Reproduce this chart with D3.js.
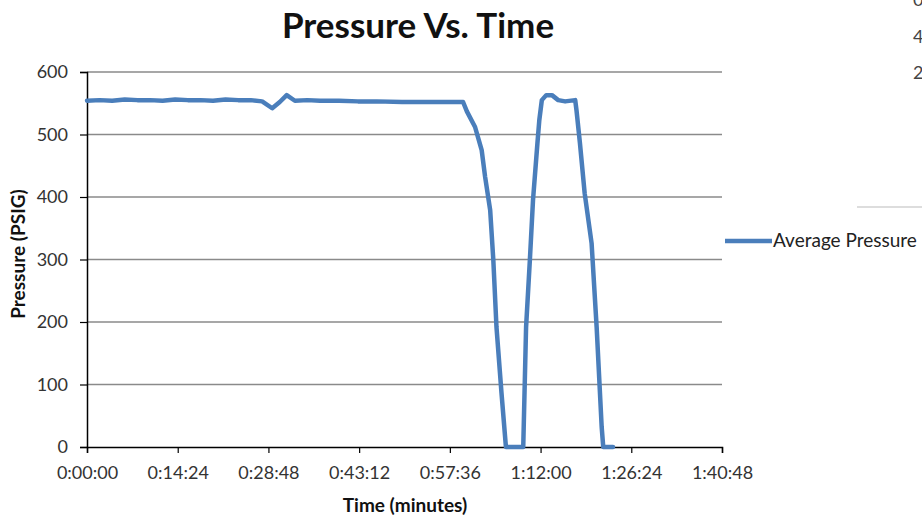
<!DOCTYPE html>
<html><head><meta charset="utf-8">
<script src="https://cdn.jsdelivr.net/npm/d3@7/dist/d3.min.js"></script>
<style>
html,body{margin:0;padding:0;background:#fff;}
svg{display:block;}
</style></head>
<body>
<svg id="chart" width="922" height="518"></svg>
<script>
// Data (time in minutes, pressure in PSIG)
const timeMin = [0,2,4,6,8,10,12,14,16,18,20,22,24,26,27.8,29.4,30.6,31.7,33,35,37,40,43,46,50,54,58,59.7,
  60.3,61.6,62.65,63.2,64.0,64.5,65.0,65.8,66.5,68.7,69.25,69.7,70.3,70.8,71.5,71.8,72.2,72.9,73.8,74.8,75.9,77.5,
  77.7,78.25,79.0,80.1,80.9,81.7,81.95,83.5];
const pressure = [554,555,554,556,555,555,554,556,555,555,554,556,555,555,553,542,552,563,554,555,554,554,553,553,552,552,552,552,
  537,512,475,432,379,299,192,86,0,0,0,192,299,395,486,523,555,563,563,555,553,555,
  539,486,406,326,192,32,0,0];
const seriesName = "Average Pressure";
const xTickMinutes = [0,14.4,28.8,43.2,57.6,72,86.4,100.8];
const yTicks = [0,100,200,300,400,500,600];
const titleText = "Pressure Vs. Time";
const xTitle = "Time (minutes)";
const yTitle = "Pressure (PSIG)";
const strayLabels = ["0","4","2"];

const svg = d3.select("#chart");
const m = {left:87, right:722, top:72, bottom:447};
const x = d3.scaleLinear().domain([0,100.8]).range([m.left,m.right]);
const y = d3.scaleLinear().domain([0,600]).range([m.bottom,m.top]);
const fontF = "Lato, 'Open Sans', sans-serif";

function fmtTime(min){
  const s = Math.round(min*60);
  const h = Math.floor(s/3600), mm = Math.floor((s%3600)/60), ss = s%60;
  return h + ":" + String(mm).padStart(2,"0") + ":" + String(ss).padStart(2,"0");
}

// gridlines
svg.append("g").selectAll("line").data(yTicks.filter(d=>d>0)).join("line")
  .attr("x1",m.left).attr("x2",m.right)
  .attr("y1",d=>y(d)).attr("y2",d=>y(d))
  .attr("stroke","#8a8a8a").attr("stroke-width",1.3);

// y axis
const yAxis = svg.append("g").attr("transform",`translate(${m.left},0)`)
  .call(d3.axisLeft(y).tickValues(yTicks).tickSize(7).tickPadding(12).tickFormat(d3.format("d")));
yAxis.select(".domain").attr("stroke","#000").attr("stroke-width",1.5);
yAxis.selectAll(".tick line").attr("stroke","#000").attr("stroke-width",1.2);
yAxis.selectAll("text").attr("font-family",fontF).attr("font-size",18).attr("fill","#333");

// x axis
const xAxis = svg.append("g").attr("transform",`translate(0,${m.bottom})`)
  .call(d3.axisBottom(x).tickValues(xTickMinutes).tickSize(6).tickPadding(13).tickFormat(fmtTime));
xAxis.select(".domain").attr("stroke","#000").attr("stroke-width",1.5);
xAxis.selectAll(".tick line").attr("stroke","#000").attr("stroke-width",1.2);
xAxis.selectAll("text").attr("font-family",fontF).attr("font-size",18).attr("fill","#333");

// line
const line = d3.line().x((d,i)=>x(timeMin[i])).y(d=>y(d));
svg.append("path").datum(pressure)
  .attr("d",line).attr("fill","none")
  .attr("stroke","#4a7ebb").attr("stroke-width",4.5)
  .attr("stroke-linejoin","round").attr("stroke-linecap","round");

// titles
svg.append("text").attr("x",418).attr("y",38).attr("text-anchor","middle")
  .attr("font-family",fontF).attr("font-weight","bold").attr("font-size",35).attr("fill","#111")
  .text(titleText);
svg.append("text").attr("x",405).attr("y",512).attr("text-anchor","middle")
  .attr("font-family",fontF).attr("font-weight","bold").attr("font-size",19).attr("fill","#111")
  .text(xTitle);
svg.append("text").attr("transform","translate(25,254) rotate(-90)").attr("text-anchor","middle")
  .attr("font-family",fontF).attr("font-weight","bold").attr("font-size",19).attr("fill","#111")
  .text(yTitle);

// legend
svg.append("line").attr("x1",725).attr("x2",772).attr("y1",241).attr("y2",241)
  .attr("stroke","#4a7ebb").attr("stroke-width",4.5);
svg.append("text").attr("x",773).attr("y",247)
  .attr("font-family",fontF).attr("font-size",19).attr("fill","#222").text(seriesName);

// stray artefacts at right edge
svg.append("g").selectAll("text").data(strayLabels).join("text")
  .attr("x",913).attr("y",(d,i)=>[6,43,79][i])
  .attr("font-family",fontF).attr("font-size",18).attr("fill","#444").text(d=>d);
svg.append("line").attr("x1",857).attr("x2",922).attr("y1",207).attr("y2",207)
  .attr("stroke","#ddd").attr("stroke-width",2);
</script>
</body></html>
